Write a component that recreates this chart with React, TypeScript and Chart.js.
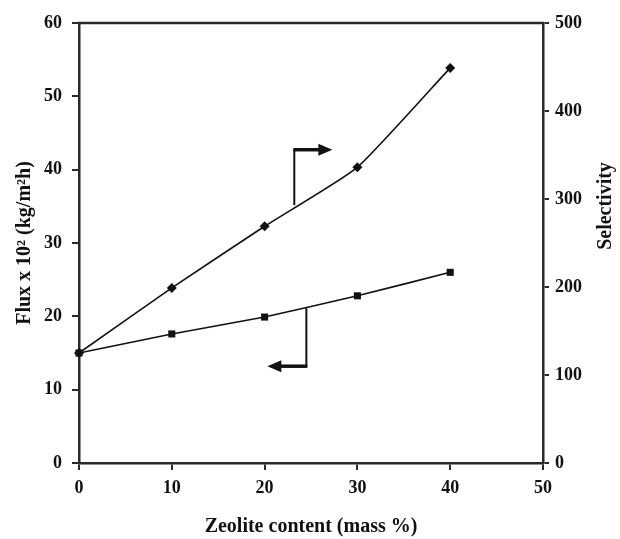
import React, { useEffect, useRef } from "react";
import { Chart, registerables } from "chart.js";

Chart.register(...registerables);

const zeoliteContent = [0, 10, 20, 30, 40];
const fluxValues = [15.0, 17.6, 19.9, 22.8, 26.0];
const selectivityValues = [125, 199, 269, 336, 449];

const xTicks = [0, 10, 20, 30, 40, 50];
const fluxTicks = [0, 10, 20, 30, 40, 50, 60];
const selTicks = [0, 100, 200, 300, 400, 500];

// annotation arrows in data units: [x, y] (selectivity arrow on right axis, flux arrow on left axis)
const selArrow = [
  [23.2, 293],
  [23.2, 356],
  [27.3, 356],
];
const fluxArrow = [
  [24.5, 21.1],
  [24.5, 13.2],
  [20.3, 13.2],
];

const FONT = "'Liberation Serif', 'Times New Roman', serif";
const AXIS = "#2a2a2a";

const decorPlugin = {
  id: "decor",
  afterDatasetsDraw(chart: any) {
    const { ctx, chartArea, scales } = chart;
    ctx.save();
    // top frame line
    ctx.strokeStyle = AXIS;
    ctx.lineWidth = 2.5;
    ctx.beginPath();
    ctx.moveTo(chartArea.left - 1, chartArea.top);
    ctx.lineTo(chartArea.right + 1, chartArea.top);
    ctx.stroke();

    const drawArrow = (pts: number[][], yScale: any) => {
      const p = pts.map(([x, y]) => [scales.x.getPixelForValue(x), yScale.getPixelForValue(y)]);
      ctx.strokeStyle = "#111";
      ctx.fillStyle = "#111";
      ctx.lineWidth = 2;
      ctx.beginPath();
      ctx.moveTo(p[0][0], p[0][1]);
      ctx.lineTo(p[1][0], p[1][1]);
      ctx.stroke();
      const [sx, sy] = p[1];
      const [ex, ey] = p[2];
      const dir = Math.sign(ex - sx);
      const headLen = 14;
      ctx.lineWidth = 3.5;
      ctx.beginPath();
      ctx.moveTo(sx - dir * 1, sy);
      ctx.lineTo(ex - dir * headLen + dir * 2, ey);
      ctx.stroke();
      ctx.beginPath();
      ctx.moveTo(ex, ey);
      ctx.lineTo(ex - dir * headLen, ey - 6);
      ctx.lineTo(ex - dir * headLen, ey + 6);
      ctx.closePath();
      ctx.fill();
    };
    drawArrow(selArrow, scales.y1);
    drawArrow(fluxArrow, scales.y);

    // right axis title
    ctx.fillStyle = "#111";
    ctx.font = `bold 20px ${FONT}`;
    ctx.textAlign = "center";
    ctx.textBaseline = "middle";
    ctx.translate(606, 206);
    ctx.rotate(-Math.PI / 2);
    ctx.fillText("Selectivity", 0, 0);
    ctx.restore();
  },
};

export default function App() {
  const ref = useRef<HTMLCanvasElement>(null);
  useEffect(() => {
    document.body.style.margin = "0";
    const canvas = ref.current!;
    const tickFont = { family: FONT, size: 18, weight: "bold" as const };
    const grid = {
      display: true,
      drawOnChartArea: false,
      drawTicks: true,
      tickLength: 7,
      color: AXIS,
      lineWidth: 2,
    };
    const chart = new Chart(canvas, {
      type: "line",
      data: {
        datasets: [
          {
            label: "Flux",
            data: zeoliteContent.map((x, i) => ({ x, y: fluxValues[i] })),
            yAxisID: "y",
            borderColor: "#111",
            backgroundColor: "#111",
            borderWidth: 1.6,
            pointStyle: "rect",
            pointRadius: 5,
            pointBorderWidth: 0,
            tension: 0.1,
            clip: false,
          },
          {
            label: "Selectivity",
            data: zeoliteContent.map((x, i) => ({ x, y: selectivityValues[i] })),
            yAxisID: "y1",
            borderColor: "#111",
            backgroundColor: "#111",
            borderWidth: 1.6,
            pointStyle: "rectRot",
            pointRadius: 5,
            pointBorderWidth: 0,
            tension: 0.15,
            clip: false,
          },
        ],
      },
      options: {
        animation: false,
        responsive: false,
        maintainAspectRatio: false,
        layout: { padding: { top: 23, left: 0, right: 0, bottom: 0 } },
        plugins: { legend: { display: false }, tooltip: { enabled: false } },
        scales: {
          x: {
            type: "linear",
            min: 0,
            max: 50,
            afterBuildTicks: (s: any) => {
              s.ticks = xTicks.map((v) => ({ value: v }));
            },
            ticks: { font: tickFont, color: "#111", padding: 8 },
            grid,
            border: { display: true, color: AXIS, width: 2.5 },
            title: {
              display: true,
              text: "Zeolite content (mass %)",
              font: { family: FONT, size: 20, weight: "bold" },
              color: "#111",
              padding: { top: 0, bottom: 0 },
            },
            afterFit: (s: any) => {
              s.height = 76;
            },
          },
          y: {
            type: "linear",
            position: "left",
            min: 0,
            max: 60,
            afterBuildTicks: (s: any) => {
              s.ticks = fluxTicks.map((v) => ({ value: v }));
            },
            ticks: { font: tickFont, color: "#111", padding: 10 },
            grid,
            border: { display: true, color: AXIS, width: 2.5 },
            title: {
              display: true,
              text: "Flux x 10² (kg/m²h)",
              font: { family: FONT, size: 20, weight: "bold" },
              color: "#111",
              padding: { top: 13, bottom: 0 },
            },
            afterFit: (s: any) => {
              s.width = 79;
            },
          },
          y1: {
            type: "linear",
            position: "right",
            min: 0,
            max: 500,
            afterBuildTicks: (s: any) => {
              s.ticks = selTicks.map((v) => ({ value: v }));
            },
            ticks: { font: tickFont, color: "#111", padding: 6 },
            grid: { ...grid, tickLength: 6 },
            border: { display: true, color: AXIS, width: 2.5 },
            afterFit: (s: any) => {
              s.width = 77;
            },
          },
        },
      },
      plugins: [decorPlugin],
    });
    return () => chart.destroy();
  }, []);
  return (
    <div style={{ width: 620, height: 539 }}>
      <canvas ref={ref} width={620} height={539} style={{ display: "block" }} />
    </div>
  );
}
